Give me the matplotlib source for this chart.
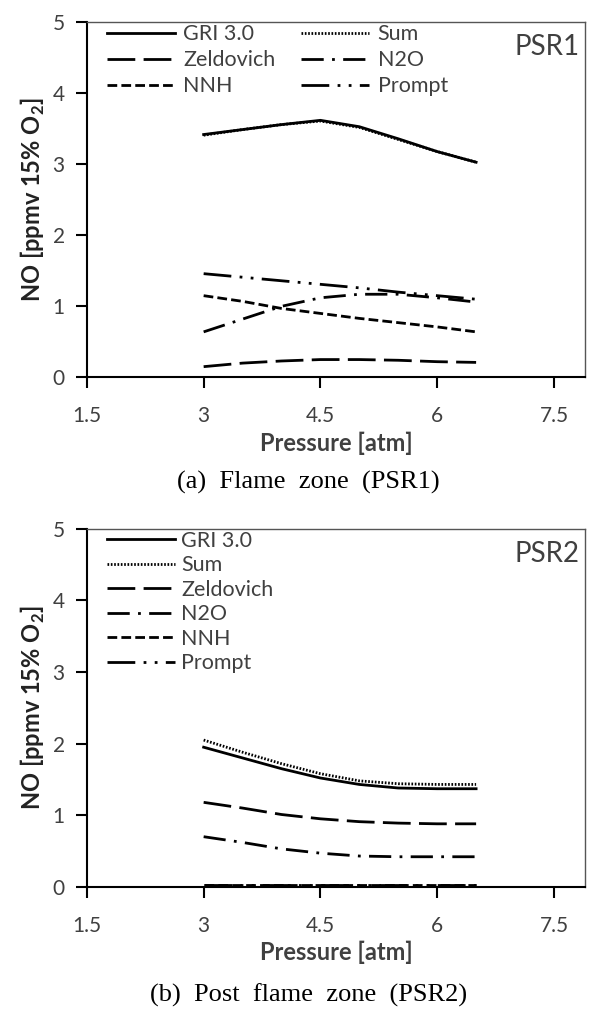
import matplotlib
matplotlib.use('Agg')
import matplotlib.pyplot as plt

plt.rcParams['font.family'] = ['Lato', 'DejaVu Sans']
plt.rcParams['mathtext.fontset'] = 'custom'
plt.rcParams['mathtext.rm'] = 'Lato'
plt.rcParams['mathtext.bf'] = 'Lato:bold'

pressure = [3.0, 3.5, 4.0, 4.5, 5.0, 5.5, 6.0, 6.5]

# PSR1 - flame zone
psr1_gri = [3.42, 3.49, 3.56, 3.62, 3.53, 3.36, 3.18, 3.03]
psr1_sum = [3.41, 3.49, 3.56, 3.61, 3.52, 3.35, 3.18, 3.03]
psr1_zeldovich = [0.15, 0.20, 0.23, 0.25, 0.25, 0.24, 0.22, 0.21]
psr1_n2o = [0.64, 0.82, 1.00, 1.12, 1.17, 1.17, 1.12, 1.06]
psr1_nnh = [1.15, 1.07, 0.97, 0.90, 0.83, 0.77, 0.71, 0.64]
psr1_prompt = [1.46, 1.41, 1.36, 1.31, 1.26, 1.20, 1.15, 1.10]

# PSR2 - post flame zone
psr2_gri = [1.95, 1.80, 1.65, 1.52, 1.43, 1.38, 1.37, 1.37]
psr2_sum = [2.05, 1.88, 1.72, 1.58, 1.48, 1.44, 1.43, 1.43]
psr2_zeldovich = [1.18, 1.10, 1.01, 0.95, 0.91, 0.89, 0.88, 0.88]
psr2_n2o = [0.70, 0.62, 0.53, 0.47, 0.43, 0.42, 0.42, 0.42]
psr2_nnh = [0.03, 0.03, 0.03, 0.03, 0.03, 0.03, 0.03, 0.03]
psr2_prompt = [0.02, 0.02, 0.02, 0.02, 0.02, 0.02, 0.02, 0.02]

xticks = [1.5, 3, 4.5, 6, 7.5]
xtick_labels = ['1.5', '3', '4.5', '6', '7.5']

styles = {
    'GRI 3.0': dict(ls='-', lw=2.0),
    'Sum': dict(ls=(0, (0.6, 0.6)), lw=2.0),
    'Zeldovich': dict(ls=(0, (10, 3)), lw=2.0),
    'N2O': dict(ls=(0, (8, 3, 1, 3)), lw=2.0),
    'NNH': dict(ls=(0, (3.5, 1.5)), lw=2.0),
    'Prompt': dict(ls=(0, (10, 3, 1, 3, 1, 3)), lw=2.0),
}

txt = '#404040'
fs_tick = 15
fs_label = 17
fs_leg = 15.5

fig = plt.figure(figsize=(5.91, 10.17), dpi=100)
ax1 = fig.add_axes([0.147, 0.629, 0.843, 0.349])
ax2 = fig.add_axes([0.147, 0.128, 0.843, 0.352])


def draw(ax, series):
    lines = {}
    for name, y in series:
        ln, = ax.plot(pressure, y, color='black', label=name, **styles[name])
        lines[name] = ln
    ax.set_xlim(1.5, 7.9)
    ax.set_ylim(0, 5)
    ax.set_xticks(xticks)
    ax.set_xticklabels(xtick_labels)
    ax.set_yticks(range(6))
    ax.tick_params(axis='x', direction='out', length=8, width=1.5, pad=13,
                   labelsize=fs_tick, labelcolor=txt)
    ax.tick_params(axis='y', direction='out', length=8, width=1.5, pad=8,
                   labelsize=fs_tick, labelcolor=txt)
    for s in ['left', 'bottom']:
        ax.spines[s].set_linewidth(1.5)
    for s in ['top', 'right']:
        ax.spines[s].set_linewidth(1.0)
        ax.spines[s].set_color('#555555')
    ax.set_xlabel('Pressure [atm]', fontsize=fs_label, fontweight='bold',
                  color=txt, va='center')
    ax.set_ylabel(r'NO [ppmv 15% O$_\mathbf{2}$]', fontsize=fs_label,
                  fontweight='bold', color='#222222', va='center')
    ax.yaxis.set_label_coords(-0.108, 0.5)
    return lines


l1 = draw(ax1, [('GRI 3.0', psr1_gri), ('Sum', psr1_sum),
                ('Zeldovich', psr1_zeldovich), ('N2O', psr1_n2o),
                ('NNH', psr1_nnh), ('Prompt', psr1_prompt)])
ax1.xaxis.set_label_coords(0.5, -0.186)
order = ['GRI 3.0', 'Zeldovich', 'NNH', 'Sum', 'N2O', 'Prompt']
leg1 = ax1.legend([l1[k] for k in order], order, ncol=2, loc='upper left',
                  bbox_to_anchor=(0.04, 0.995), frameon=False, fontsize=fs_leg,
                  handlelength=3.15, handletextpad=0.4, columnspacing=1.2,
                  labelspacing=0.28, borderpad=0, borderaxespad=0)
for t in leg1.get_texts():
    t.set_color(txt)
ax1.text(0.924, 0.93, 'PSR1', transform=ax1.transAxes, ha='center',
         va='center', fontsize=20, color=txt)

l2 = draw(ax2, [('GRI 3.0', psr2_gri), ('Sum', psr2_sum),
                ('Zeldovich', psr2_zeldovich), ('N2O', psr2_n2o),
                ('NNH', psr2_nnh), ('Prompt', psr2_prompt)])
ax2.xaxis.set_label_coords(0.5, -0.184)
leg2 = ax2.legend(loc='upper left', bbox_to_anchor=(0.04, 0.995),
                  frameon=False, fontsize=fs_leg, handlelength=3.15,
                  handletextpad=0.3, labelspacing=0.21, borderpad=0,
                  borderaxespad=0)
for t in leg2.get_texts():
    t.set_color(txt)
ax2.text(0.924, 0.93, 'PSR2', transform=ax2.transAxes, ha='center',
         va='center', fontsize=20, color=txt)

fig.text(0.522, 1 - 482 / 1017, '(a)  Flame  zone  (PSR1)', ha='center',
         va='center', fontsize=19, family='Liberation Serif')
fig.text(0.522, 1 - 995 / 1017, '(b)  Post  flame  zone  (PSR2)', ha='center',
         va='center', fontsize=19, family='Liberation Serif')

fig.savefig('out.png', dpi=100)
